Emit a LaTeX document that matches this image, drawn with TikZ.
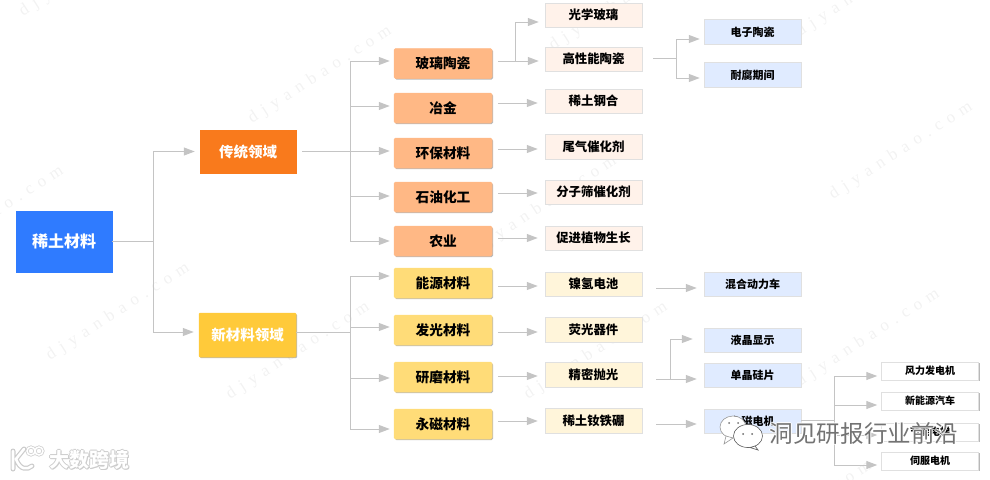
\documentclass[tikz,border=0pt]{standalone}
\usepackage{fontspec}
\setmainfont{Noto Sans CJK SC}
\newfontfamily\wmfont[LetterSpace=38]{Liberation Serif}
\usetikzlibrary{arrows.meta,shadows}
\definecolor{linegray}{HTML}{C4C4C4}
\definecolor{wmgray}{HTML}{F2F2F2}
\tikzset{
  box/.style={rectangle,inner sep=0pt,text=black,font=\bfseries,draw=#1,line width=.5pt,
    drop shadow={shadow xshift=1pt,shadow yshift=-1.1pt,fill=black,opacity=.28}},
  box/.default=black!12,
  rootbox/.style={box=RootC,fill=RootC,text=white,minimum width=96pt,minimum height=61pt,font=\bfseries\fontsize{16}{16}\selectfont},
  tradbox/.style={box=TradC,fill=TradC,text=white,minimum width=96pt,minimum height=43pt,font=\bfseries\fontsize{14.5}{15}\selectfont},
  newbox/.style={box=NewC,fill=NewC,text=white,minimum width=97pt,minimum height=44pt,rounded corners=1pt,font=\bfseries\fontsize{14.5}{15}\selectfont},
  lvA/.style={box=LvA,fill=LvA,minimum width=98pt,minimum height=30pt,rounded corners=1.5pt,text height=1em,text depth=0pt,font=\bfseries\fontsize{13.7}{14}\selectfont},
  lvB/.style={box=LvB,fill=LvB,minimum width=98pt,minimum height=30pt,rounded corners=1.5pt,text height=1em,text depth=0pt,font=\bfseries\fontsize{13.7}{14}\selectfont},
  leafA/.style={box=black!12,fill=LeafA,minimum width=97pt,minimum height=24.5pt,text height=.95em,text depth=.05em,font=\bfseries\fontsize{12.4}{13}\selectfont},
  leafB/.style={box=black!12,fill=LeafB,minimum width=97pt,minimum height=24.5pt,text height=.95em,text depth=.05em,font=\bfseries\fontsize{12.4}{13}\selectfont},
  leafC/.style={box=black!12,fill=LeafC,minimum width=97pt,minimum height=24.5pt,text height=.95em,text depth=.05em,font=\bfseries\fontsize{11}{12}\selectfont},
  leafD/.style={box=black!12,fill=white,minimum width=97pt,minimum height=18pt,font=\bfseries\fontsize{10}{11}\selectfont},
  conn/.style={draw=linegray,line width=1pt,-{Triangle[length=11pt,width=8pt,fill=linegray]}},
  trunk/.style={draw=linegray,line width=1pt},
  wmark/.style={text=wmgray,rotate=33,font=\wmfont\fontsize{17}{17}\selectfont,inner sep=0pt},
}
\definecolor{RootC}{HTML}{2F7BFF}
\definecolor{TradC}{HTML}{F97A1C}
\definecolor{NewC}{HTML}{FFCA3A}
\definecolor{LvA}{HTML}{FFB885}
\definecolor{LvB}{HTML}{FFDC78}
\definecolor{LeafA}{HTML}{FFF2EA}
\definecolor{LeafB}{HTML}{FFF5DA}
\definecolor{LeafC}{HTML}{E0EBFF}
\begin{document}
\begin{tikzpicture}[x=1pt,y=-1pt]
\useasboundingbox (0,0) rectangle (990,479);
% watermarks
\foreach \i/\p in {a/{320,75},b/{-8,215},c/{118,312},d/{298,351},e/{596,351},f/{545,205},g/{901,151},h/{621,2},k/{868,-12},m/{868,338},o/{91,-32},q/{800,510}}
  \node[wmark] (wm\i) at (\p) {djyanbao.com};
% boxes
\node[rootbox] (root) at (64,241.5) {稀土材料};
\node[tradbox] (trad) at (248,151.5) {传统领域};
\node[newbox] (newm) at (247.5,335) {新材料领域};
\node[lvA] (n1) at (443,63.5) {玻璃陶瓷};
\node[lvA] (n2) at (443,108) {冶金};
\node[lvA] (n3) at (443,153) {环保材料};
\node[lvA] (n4) at (443,197) {石油化工};
\node[lvA] (n5) at (443,241) {农业};
\node[lvB] (n6) at (443,283) {能源材料};
\node[lvB] (n7) at (443,330) {发光材料};
\node[lvB] (n8) at (443,377) {研磨材料};
\node[lvB] (n9) at (443,424) {永磁材料};
\node[leafA] (l1) at (593.5,15) {光学玻璃};
\node[leafA] (l2) at (593.5,59) {高性能陶瓷};
\node[leafA] (l3) at (593.5,101) {稀土钢合};
\node[leafA] (l4) at (593.5,146.5) {尾气催化剂};
\node[leafA] (l5) at (593.5,192) {分子筛催化剂};
\node[leafA] (l6) at (593.5,238) {促进植物生长};
\node[leafB] (l7) at (593.5,284) {镍氢电池};
\node[leafB] (l8) at (593.5,329.5) {荧光器件};
\node[leafB] (l9) at (593.5,374.5) {精密抛光};
\node[leafB] (l10) at (593.5,420.5) {稀土钕铁硼};
\node[leafC] (m1) at (752.5,31.5) {电子陶瓷};
\node[leafC] (m2) at (752.5,74.5) {耐腐期间};
\node[leafC] (m3) at (752.5,284) {混合动力车};
\node[leafC] (m4) at (752.5,340) {液晶显示};
\node[leafC] (m5) at (752.5,375) {单晶硅片};
\node[leafC] (m6) at (752.5,421) {永磁电机};
\node[leafD] (p1) at (930,371) {风力发电机};
\node[leafD] (p2) at (930,401) {新能源汽车};
\node[leafD] (p3) at (930,432) {节能电梯};
\node[leafD] (p4) at (930,461) {伺服电机};
% junctions
\coordinate (j0) at (153,241);
\coordinate (jT) at (350,151);
\coordinate (jN) at (350,332);
\coordinate (jG) at (515,61);
\coordinate (jC) at (676,58);
\coordinate (jP) at (670,379);
\coordinate (jM) at (834,420);
% connectors
\draw[trunk] (root.east |- j0) -- (j0);
\draw[conn] (j0) |- ([xshift=-5pt]trad.west);
\draw[conn] (j0) |- ([xshift=-5pt]newm.west |- 0,332);
\draw[trunk] ([xshift=6pt]trad.east |- jT) -- (jT);
\draw[trunk] (newm.east |- jN) -- (jN);
\foreach \t/\y in {n1/61,n2/106,n3/151,n4/196,n5/241}
  \draw[conn] (jT) |- ([xshift=-4pt]\t.west |- 0,\y);
\foreach \t/\y in {n6/276,n7/327,n8/378,n9/429}
  \draw[conn] (jN) |- ([xshift=-4pt]\t.west |- 0,\y);
\draw[trunk] ([xshift=6pt]n1.east |- jG) -- (jG);
\draw[conn] (jG) |- ([xshift=-6pt]l1.west |- 0,22);
\draw[conn] (jG) -- ([xshift=-6pt]l2.west |- jG);
\foreach \a/\b/\y in {n2/l3/103,n3/l4/149,n4/l5/193,n5/l6/238,n6/l7/286,n7/l8/332,n8/l9/376,n9/l10/421}
  \draw[conn] ([xshift=6pt]\a.east |- 0,\y) -- ([xshift=-7pt]\b.west |- 0,\y);
\draw[trunk] ([xshift=11pt]l2.east |- jC) -- (jC);
\draw[conn] (jC) |- ([xshift=-4pt]m1.west |- 0,39);
\draw[conn] (jC) |- ([xshift=-4pt]m2.west |- 0,78);
\draw[conn] ([xshift=14pt]l7.east |- 0,288) -- ([xshift=-7pt]m3.west |- 0,288);
\draw[trunk] ([xshift=14pt]l9.east |- jP) -- (jP);
\draw[conn] (jP) |- ([xshift=-11pt]m4.west |- 0,339);
\draw[conn] (jP) -- ([xshift=-7pt]m5.west |- jP);
\draw[conn] ([xshift=14pt]l10.east |- 0,424) -- ([xshift=-7pt]m6.west |- 0,424);
\draw[trunk] (m6.east |- jM) -- (jM);
\foreach \t/\y in {p1/376,p2/405,p3/435,p4/465}
  \draw[conn] (jM) |- ([xshift=-4pt]\t.west |- 0,\y);
% bottom-left logo
\foreach \c/\w in {black!20/5,white/2.6}{
  \draw[\c,line width=\w pt,line cap=round,line join=round]
    (13,451) -- (13,469) (24,449) -- (16,459) .. controls (20,470) and (27,470) .. (32,466);
  \draw[\c,line width=\w*.6 pt] (31,451) circle (4) (39,451) circle (4);
}
\foreach \i/\dx/\dy in {1/-1/0,2/1/0,3/0/-1,4/0/1,5/1.2/1.2}
  \node[inner sep=0pt,text=black!20,font=\bfseries\fontsize{20}{20}\selectfont] (logoS\i) at (89+\dx,460+\dy) {大数跨境};
\node[inner sep=0pt,text=white,font=\bfseries\fontsize{20}{20}\selectfont] (logoT) at (89,460) {大数跨境};
% WeChat mark
\draw[black!40,fill=white,line width=.6pt] (733,427) ellipse (13 and 11);
\draw[black!40,fill=white,line width=.6pt] (726,436) -- (724,444) -- (733,438) -- cycle;
\draw[black!60,fill=white,line width=.7pt] (748,436) ellipse (14.5 and 11.5);
\draw[black!60,fill=white,line width=.7pt] (755,446) -- (758,450) -- (750,447.5) -- cycle;
\fill[white] (748,436) ellipse (13.8 and 10.8);
\fill[black!60] (743,434) circle (1) (752,434) circle (1);
\fill[black!55] (729,423) circle (1) (738,423) circle (1);
% overlay caption
\foreach \i/\dx/\dy in {1/-1/0,2/1/0,3/0/-1,4/0/1}
  \node[inner sep=0pt,text=white,font=\fontsize{23.6}{24}\selectfont] (capS\i) at (864+\dx,434+\dy) {洞见研报行业前沿};
\node[inner sep=0pt,text=black!55,font=\fontsize{23.6}{24}\selectfont] (cap) at (864,434) {洞见研报行业前沿};
\end{tikzpicture}
\end{document}
